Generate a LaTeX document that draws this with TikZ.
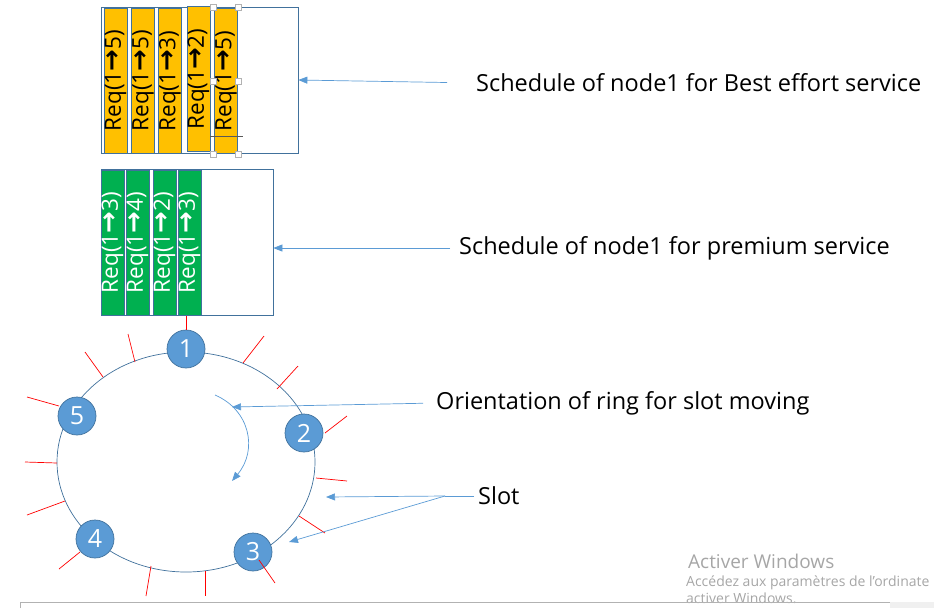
\documentclass[tikz,border=0pt]{standalone}
\usepackage{fontspec}
\setmainfont{Open Sans}
\newfontfamily\arrowfont[Scale=1.15]{DejaVu Sans}
\usetikzlibrary{positioning,arrows.meta}
\definecolor{reqyellow}{HTML}{FFC000}
\definecolor{reqgreen}{HTML}{00B050}
\definecolor{boxedge}{HTML}{41719C}
\definecolor{nodeblue}{HTML}{5B9BD5}
\definecolor{ptrblue}{HTML}{5B9BD5}
\definecolor{wmgray}{HTML}{A6A6A6}
\newcommand{\reqto}[1]{Req(1{\arrowfont\bfseries →}#1)}

\begin{document}
\begin{tikzpicture}[
  x=1pt, y=-1pt,
  >=Triangle,
  frame/.style={draw=boxedge, line width=0.7pt, inner sep=0pt},
  req/.style={draw=boxedge, line width=0.6pt, rotate=90, inner sep=0pt,
              minimum width=145pt, minimum height=23pt,
              font={\fontsize{22.5}{25}\selectfont}},
  besteff/.style={req, fill=reqyellow, text=black},
  premium/.style={req, fill=reqgreen, text=white},
  member/.style={circle, fill=nodeblue, draw=boxedge, line width=0.7pt,
                 minimum size=38pt, inner sep=0pt, text=white,
                 font={\fontsize{25}{28}\selectfont}},
  tick/.style={red, line width=0.7pt},
  ptr/.style={-{Triangle[length=9pt,width=7pt]}, draw=ptrblue, line width=0.7pt},
  lbl/.style={anchor=west, inner sep=0pt, font={\fontsize{23.5}{27}\selectfont}},
  wmark/.style={anchor=west, inner sep=0pt, text=wmgray},
  handle/.style={draw=gray!60, fill=white, line width=0.5pt, minimum size=6pt, inner sep=0pt},
]
\useasboundingbox (0,0) rectangle (934,608);
\clip (0,0) rectangle (934,608);

% best effort schedule
\node[frame, minimum width=197pt, minimum height=146pt] (yelbox) at (199.5,80) {};
\node[besteff] (y1) at (115.5,80.5) {\reqto{5}};
\node[besteff] (y2) at (143,80.5) {\reqto{5}};
\node[besteff] (y3) at (170,81) {\reqto{3}};
\node[besteff] (y4) at (198.5,79) {\reqto{2}};
\node[besteff] (y5) at (226,81) {\reqto{5}};
\draw[gray!70!black, line width=0.6pt] (210,136) -- (243,136);
\node[handle] (h1) at (213,7) {};
\node[handle] (h2) at (238,7) {};
\node[handle] (h3) at (213,81) {};
\node[handle] (h4) at (238,81) {};
\node[handle] (h5) at (213,154) {};
\node[handle] (h6) at (238,154) {};

% premium schedule
\node[frame, minimum width=172pt, minimum height=146pt] (grnbox) at (187,242) {};
\node[premium] (g1) at (112.5,242.5) {\reqto{3}};
\node[premium] (g2) at (137.5,242.5) {\reqto{4}};
\node[premium] (g3) at (164.5,242.5) {\reqto{2}};
\node[premium] (g4) at (189.5,242.5) {\reqto{3}};

% ring
\draw[boxedge, line width=0.7pt] (186,462) ellipse [x radius=129, y radius=110];
\node[member] (n1) at (186,349) {1};
\node[member] (n2) at (304,433) {2};
\node[member] (n3) at (253,552) {3};
\node[member] (n4) at (95,539) {4};
\node[member] (n5) at (77,416) {5};

% slots
\draw[tick] (186,316) -- (n1.north);
\draw[tick] (135,362) -- (128,334);
\draw[tick] (103,377) -- (85,352);
\draw[tick] (59,406) -- (27,397);
\draw[tick] (57,463) -- (25,462);
\draw[tick] (65,501) -- (27,515);
\draw[tick] (80,552) -- (59,569);
\draw[tick] (151,566) -- (146,596);
\draw[tick] (205,571) -- (205,596);
\draw[tick] (259,560) -- (275,583);
\draw[tick] (299,516) -- (325,533);
\draw[tick] (316,478) -- (347,481);
\draw[tick] (325,433) -- (347,416);
\draw[tick] (277,389) -- (298,366);
\draw[tick] (243,363) -- (264,336);

% orientation
\draw[ptr] (215,395) .. controls (250,410) and (258,450) .. (232,481);

% labels
\node[lbl] (lblbest) at (476,83) {Schedule of node1 for Best effort service};
\node[lbl] (lblprem) at (459,248) {Schedule of node1 for premium service};
\node[lbl] (lblorient) at (436,403) {Orientation of ring for slot moving};
\node[lbl] (lblslot) at (478,496) {Slot};

\coordinate (orientend) at (232,407);
\coordinate (slotfork) at (445,496);
\coordinate (slotend1) at (326,497);
\coordinate (slotend2) at (289,542);

\draw[ptr, shorten <=29pt] (lblbest.west) -- (yelbox.east);
\draw[ptr, shorten <=9pt] (lblprem.west) -- (lblprem.west -| grnbox.east);
\draw[ptr, shorten <=13pt] (lblorient.west) -- (orientend);
\draw[ptrblue, line width=0.7pt, shorten <=4pt] (lblslot.west) -- (slotfork);
\draw[ptr] (slotfork) -- (slotend1);
\draw[ptr] (slotfork) -- (slotend2);

% screen overlay
\node[wmark, font={\fontsize{19}{23}\selectfont}] (wm1) at (688,561) {Activer Windows};
\node[wmark, font={\fontsize{14}{17}\selectfont}] (wm2) at (686,583) {Accédez aux paramètres de l’ordinate};
\node[wmark, font={\fontsize{14}{17}\selectfont}] (wm3) at (686,598) {activer Windows.};
\fill[gray!12] (890,602) rectangle (934,608);
\draw[gray!60, line width=0.8pt] (20,608) -- (20,602) -- (890,602);
\end{tikzpicture}
\end{document}
